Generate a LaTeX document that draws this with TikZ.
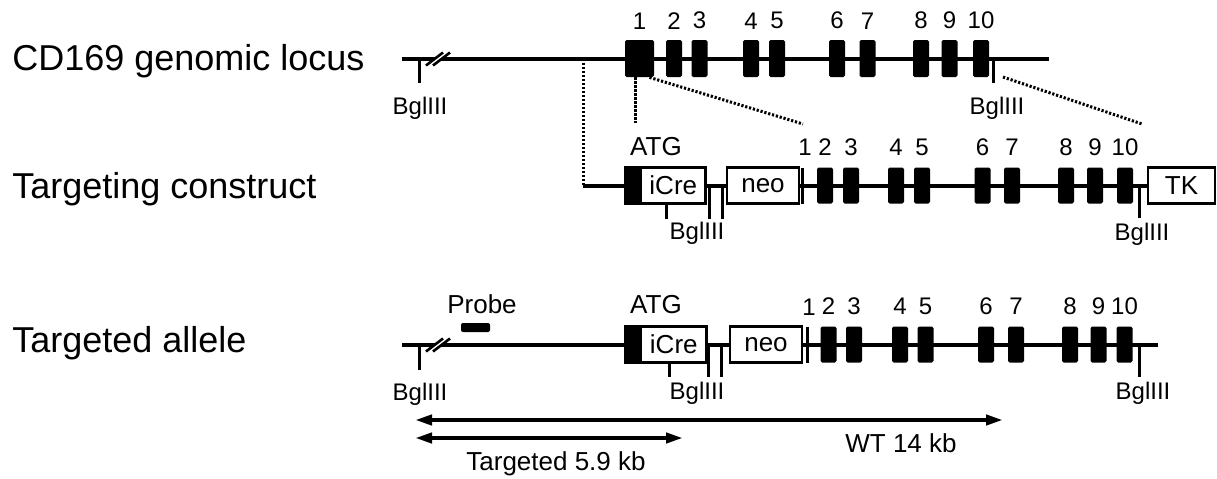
\documentclass[tikz,border=0pt]{standalone}
\usepackage{fontspec}
\setmainfont{Liberation Sans}
\usetikzlibrary{arrows.meta, positioning, calc}

\begin{document}
\begin{tikzpicture}[x=0.5pt, y=-0.5pt,
  rowlabel/.style={font=\fontsize{18}{20}\selectfont, anchor=base west, inner sep=0pt},
  num/.style={font=\fontsize{12}{14}\selectfont, anchor=base, inner sep=0pt},
  tag/.style={font=\fontsize{13}{15}\selectfont, anchor=base, inner sep=0pt},
  exon/.style={fill=black, rounded corners=0.8pt, inner sep=0pt, minimum width=8pt, minimum height=18pt},
  atgpart/.style={draw, fill=black, line width=1.4pt, inner sep=0pt, minimum width=6.5pt, minimum height=18pt},
  cassette/.style={draw, fill=white, line width=1.4pt, inner sep=0pt, minimum height=18pt, font=\fontsize{13}{15}\selectfont},
  dna/.style={line width=2pt},
  site/.style={line width=1.5pt},
  dotline/.style={line width=1.5pt, dash pattern=on 1.1pt off 0.9pt},
  span/.style={line width=2pt, {Triangle[length=8.5pt,width=5pt]}-{Triangle[length=8.5pt,width=5pt]}}
]
\useasboundingbox (0,0) rectangle (1217,478);

\node[rowlabel] (locus) at (12,70) {CD169 genomic locus};
\node[rowlabel] (construct) at (12,198) {Targeting construct};
\node[rowlabel] (allele) at (12,352) {Targeted allele};

% genomic locus
\coordinate (gL) at (402,58.5);
\coordinate (gR) at (1049,58.5);
\coordinate (gX) at (583,58.5);
\draw[dna] (gL) -- (gR);
\node[exon, minimum width=14.5pt, minimum height=18.5pt] (g1) at (639.5,58.5) {};
\node[num, above=5pt of g1] (gn1) {1};
\foreach \n/\x in {2/674, 3/699.5, 4/751, 5/777, 6/837, 7/867.5, 8/921, 9/949.5, 10/981} {
  \node[exon, minimum height=18.5pt] (g\n) at (\x,58.5) {};
  \node[num, above=5pt of g\n] (gn\n) {\n};
}
\draw[site] (419,58.5) -- (419,83) coordinate (gs1);
\draw[site] (993,58.5) -- (993,83) coordinate (gs2);
\node[num, anchor=north] (gb1) at (420,97) {BglIII};
\node[num, anchor=north] (gb2) at (997,97) {BglIII};

% targeting construct
\coordinate (cS) at (583,185.5);
\node[atgpart] (atgC) at (631.5,185.5) {};
\node[cassette, minimum width=32.5pt, right=0pt of atgC] (icreC) {iCre};
\node[cassette, minimum width=36pt] (neoC) at (763,185.5) {neo};
\node[cassette, minimum width=33.5pt] (tkC) at (1181.5,185.5) {TK};
\draw[dna] (cS) -- (atgC.west);
\draw[dna] (icreC.east) -- (neoC.west);
\draw[dna] (neoC.east) -- (tkC.west);
\node[tag] (atgTC) at (656,155) {ATG};
\node[exon, minimum width=1.5pt, rounded corners=0pt] (c1) at (802.5,185.5) {};
\node[num] (cn1) at (805,155) {1};
\foreach \n/\x in {2/825, 3/851, 4/896, 5/922, 6/982.5, 7/1012, 8/1066, 9/1095, 10/1125} {
  \node[exon] (c\n) at (\x,185.5) {};
  \node[num, above=5.5pt of c\n] (cn\n) {\n};
}
\draw[site] (666,203.5) -- (666,219);
\draw[site] (709,185.5) -- (709,219);
\draw[site] (722,185.5) -- (722,219);
\draw[site] (1139,185.5) -- (1139,218);
\node[num, anchor=north] (cb1) at (697,222) {BglIII};
\node[num, anchor=north] (cb2) at (1142,223) {BglIII};

% homology arms
\coordinate (armA) at (635,123);
\coordinate (armB) at (803,124);
\coordinate (armC) at (1003,77);
\coordinate (armD) at (1142,124);
\draw[dotline] (gX) -- (cS);
\draw[dotline] ([xshift=-2.25pt]g1.south) -- (armA);
\draw[dotline] ([xshift=5pt]g1.south) -- (armB);
\draw[dotline] (armC) -- (armD);

% targeted allele
\coordinate (aL) at (402,344.5);
\coordinate (aR) at (1158,344.5);
\draw[dna] (aL) -- (aR);
\node[atgpart] (atgA) at (631.5,344.5) {};
\node[cassette, minimum width=33pt, right=0pt of atgA] (icreA) {iCre};
\node[cassette, minimum width=36pt] (neoA) at (766,344.5) {neo};
\node[tag] (atgTA) at (656,313) {ATG};
\node[fill=black, rounded corners=1pt, inner sep=0pt, minimum width=14.5pt, minimum height=4.5pt] (probe) at (475.5,327.5) {};
\node[tag] (probeT) at (482,313) {Probe};
\node[exon, minimum width=1.5pt, rounded corners=0pt] (a1) at (807,344.5) {};
\node[num] (an1) at (809,315.5) {1};
\foreach \n/\x in {2/828.5, 3/854, 4/900, 5/925.5, 6/986, 7/1016, 8/1070, 9/1098.5, 10/1124.5} {
  \node[exon] (a\n) at (\x,344.5) {};
  \node[num, above=5.5pt of a\n] (an\n) {\n};
}
\draw[site] (419,344.5) -- (419,370);
\draw[site] (669,362.5) -- (669,377);
\draw[site] (708,344.5) -- (708,377);
\draw[site] (721,344.5) -- (721,377);
\draw[site] (1139,344.5) -- (1139,377);
\node[num, anchor=north] (ab1) at (420,383) {BglIII};
\node[num, anchor=north] (ab2) at (697,382) {BglIII};
\node[num, anchor=north] (ab3) at (1143,382) {BglIII};

% breaks
\foreach \y in {58.5,344.5} {
  \draw[white, line width=2.4pt] (429.5,\y+7) -- (446.5,\y-6);
  \draw[line width=1.3pt] (426,\y+7) -- (443,\y-6);
  \draw[line width=1.3pt] (433,\y+7) -- (450,\y-6);
}

% fragments
\coordinate (wtL) at (415,420);
\coordinate (wtR) at (1003,420);
\coordinate (tgL) at (415,438);
\coordinate (tgR) at (683,438);
\draw[span] (wtL) -- (wtR);
\draw[span] (tgL) -- (tgR);
\node[tag] (wtT) at (901,452) {WT 14 kb};
\node[tag] (tgT) at (556,470) {Targeted 5.9 kb};
\end{tikzpicture}
\end{document}
